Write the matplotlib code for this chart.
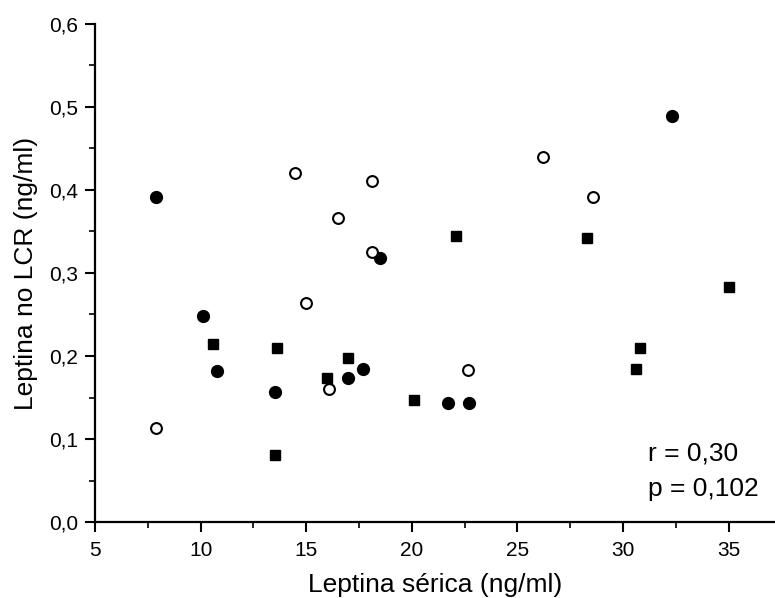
import matplotlib
matplotlib.use("Agg")
import matplotlib.pyplot as plt
from matplotlib.ticker import MultipleLocator, FuncFormatter

plt.rcParams['font.family'] = ['Liberation Sans', 'DejaVu Sans']

# Filled circles
fc_x = [7.9, 10.1, 10.8, 13.5, 17.0, 17.7, 18.5, 21.7, 22.7, 32.3]
fc_y = [0.392, 0.248, 0.182, 0.157, 0.174, 0.184, 0.318, 0.143, 0.143, 0.489]
# Open circles
oc_x = [7.9, 14.45, 15.0, 16.1, 16.5, 18.1, 18.1, 22.65, 26.2, 28.57]
oc_y = [0.113, 0.420, 0.264, 0.160, 0.366, 0.411, 0.325, 0.183, 0.440, 0.391]
# Filled squares
sq_x = [10.6, 13.6, 13.5, 16.0, 17.0, 20.1, 22.1, 28.3, 30.6, 30.8, 35.0]
sq_y = [0.214, 0.210, 0.081, 0.173, 0.198, 0.147, 0.345, 0.342, 0.184, 0.210, 0.283]

xlabel = "Leptina sérica (ng/ml)"
ylabel = "Leptina no LCR (ng/ml)"
r_text = "r = 0,30"
p_text = "p = 0,102"

fig = plt.figure(figsize=(7.75, 5.98), dpi=100)
ax = fig.add_axes([0.1226, 0.127, 0.8774, 0.833])

ax.plot(fc_x, fc_y, 'o', color='black', markersize=8.5, linestyle='none', clip_on=False)
ax.plot(oc_x, oc_y, 'o', markerfacecolor='white', markeredgecolor='black',
        markeredgewidth=1.5, markersize=7.8, linestyle='none', clip_on=False)
ax.plot(sq_x, sq_y, 's', color='black', markersize=7.5, linestyle='none', clip_on=False)

ax.set_xlim(5, 37.2)
ax.set_ylim(0, 0.6)
ax.xaxis.set_major_locator(MultipleLocator(5))
ax.xaxis.set_minor_locator(MultipleLocator(2.5))
ax.yaxis.set_major_locator(MultipleLocator(0.1))
ax.yaxis.set_minor_locator(MultipleLocator(0.05))
ax.yaxis.set_major_formatter(FuncFormatter(lambda v, p: f"{v:.1f}".replace('.', ',')))

for s in ['top', 'right']:
    ax.spines[s].set_visible(False)
for s in ['left', 'bottom']:
    ax.spines[s].set_linewidth(1.6)

ax.tick_params(which='major', direction='out', length=7, width=1.5, labelsize=15)
ax.tick_params(axis='x', which='major', pad=7)
ax.tick_params(axis='y', which='major', pad=5)
ax.tick_params(which='minor', direction='out', length=4, width=1.2)

ax.set_xlabel(xlabel, fontsize=19, labelpad=9)
ax.set_ylabel(ylabel, fontsize=19, labelpad=8)

ax.text(31.2, 0.083, r_text, fontsize=19, ha='left', va='center')
ax.text(31.2, 0.040, p_text, fontsize=19, ha='left', va='center')

fig.savefig("out.png", dpi=100)
